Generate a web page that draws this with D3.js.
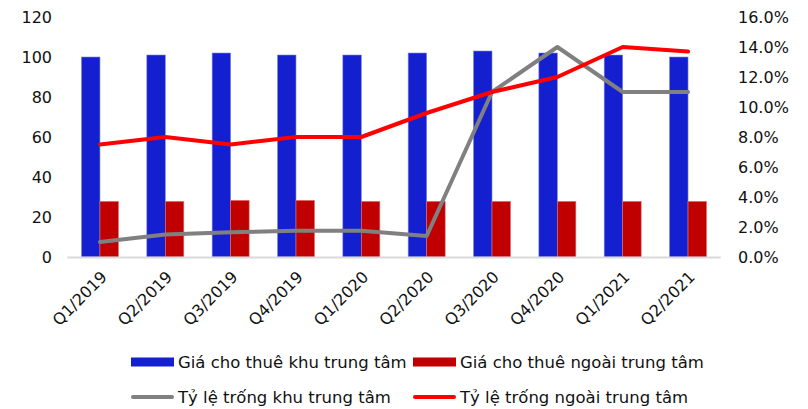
<!DOCTYPE html>
<html>
<head>
<meta charset="utf-8">
<script src="https://cdn.jsdelivr.net/npm/d3@7/dist/d3.min.js"></script>
<style>
  html, body { margin: 0; padding: 0; background: #fff; }
  svg { display: block; font-family: "DejaVu Sans", Verdana, sans-serif; }
</style>
</head>
<body>
<svg id="chart" width="808" height="409"></svg>
<script>
// Quarterly office rent (left axis) and vacancy rate (right axis)
const quarters = ["Q1/2019", "Q2/2019", "Q3/2019", "Q4/2019", "Q1/2020",
                  "Q2/2020", "Q3/2020", "Q4/2020", "Q1/2021", "Q2/2021"];
const rentCentral = [100, 101, 102, 101, 101, 102, 103, 102, 101, 100];
const rentOuter   = [27.8, 27.8, 28.3, 28.3, 27.8, 27.8, 27.8, 27.8, 27.8, 27.8];
const vacancyCentral = [1.0, 1.5, 1.65, 1.75, 1.75, 1.4, 11.0, 14.0, 11.0, 11.0];
const vacancyOuter   = [7.5, 8.0, 7.5, 8.0, 8.0, 9.6, 11.0, 12.0, 14.0, 13.7];
const leftTicks  = [0, 20, 40, 60, 80, 100, 120];
const rightTicks = [0, 2, 4, 6, 8, 10, 12, 14, 16];

const seriesNames = {
  rentCentral: "Giá cho thuê khu trung tâm",
  rentOuter: "Giá cho thuê ngoài trung tâm",
  vacancyCentral: "Tỷ lệ trống khu trung tâm",
  vacancyOuter: "Tỷ lệ trống ngoài trung tâm"
};
const colors = {
  rentCentral: "#1420CF",
  rentOuter: "#C00000",
  vacancyCentral: "#808080",
  vacancyOuter: "#FF0000"
};

const svg = d3.select("#chart");
const plot = { left: 67.3, right: 720.7, top: 17, bottom: 257 };
const fontFamily = "DejaVu Sans, Verdana, sans-serif";

const x0 = d3.scaleBand().domain(quarters).range([plot.left, plot.right]).padding(0);
const x1 = d3.scaleBand().domain(["rentCentral", "rentOuter"])
  .range([0, x0.bandwidth()]).paddingInner(0).paddingOuter(0.766);
const yLeft = d3.scaleLinear().domain([0, 120]).range([plot.bottom, plot.top]);
const yRight = d3.scaleLinear().domain([0, 16]).range([plot.bottom, plot.top]);

// Bars
const barData = quarters.map((q, i) => ({ q, rentCentral: rentCentral[i], rentOuter: rentOuter[i] }));
const groups = svg.append("g").selectAll("g").data(barData).join("g")
  .attr("transform", d => `translate(${x0(d.q)},0)`);
groups.selectAll("rect")
  .data(d => ["rentCentral", "rentOuter"].map(k => ({ k, v: d[k] })))
  .join("rect")
  .attr("x", d => x1(d.k))
  .attr("y", d => yLeft(d.v))
  .attr("width", x1.bandwidth())
  .attr("height", d => yLeft(0) - yLeft(d.v))
  .attr("fill", d => colors[d.k])
  .attr("stroke", d => d.k === "rentCentral" ? "#7F86E6" : "#E07070")
  .attr("stroke-width", 0.6);

// Baseline
svg.append("line")
  .attr("x1", plot.left).attr("x2", plot.right)
  .attr("y1", plot.bottom + 0.5).attr("y2", plot.bottom + 0.5)
  .attr("stroke", "#D9D9D9").attr("stroke-width", 2);

// Vacancy lines
const cx = q => x0(q) + x0.bandwidth() / 2;
const lineGen = d3.line().x(d => cx(d.q)).y(d => yRight(d.v));
[["vacancyCentral", vacancyCentral], ["vacancyOuter", vacancyOuter]].forEach(([k, vals]) => {
  svg.append("path")
    .datum(quarters.map((q, i) => ({ q, v: vals[i] })))
    .attr("d", lineGen)
    .attr("fill", "none")
    .attr("stroke", colors[k])
    .attr("stroke-width", 4)
    .attr("stroke-linejoin", "round")
    .attr("stroke-linecap", "round");
});

// Left axis
const leftAxis = d3.axisLeft(yLeft).tickValues(leftTicks).tickSize(0).tickPadding(0)
  .tickFormat(d3.format("d"));
const gl = svg.append("g").attr("transform", "translate(52,0)").call(leftAxis);
gl.select(".domain").remove();
gl.selectAll("text").attr("font-size", 16).attr("fill", "#111")
  .attr("font-family", fontFamily);

// Right axis
const rightAxis = d3.axisRight(yRight).tickValues(rightTicks).tickSize(0).tickPadding(0)
  .tickFormat(d => d3.format(".1f")(d) + "%");
const gr = svg.append("g").attr("transform", "translate(738,0)").call(rightAxis);
gr.select(".domain").remove();
gr.selectAll("text").attr("font-size", 16).attr("fill", "#111")
  .attr("font-family", fontFamily);

// Category axis, rotated labels
const bottomAxis = d3.axisBottom(x0).tickSize(0).tickPadding(0);
const gb = svg.append("g").attr("transform", `translate(0,${plot.bottom})`).call(bottomAxis);
gb.select(".domain").remove();
gb.selectAll("text")
  .attr("font-size", 16).attr("fill", "#111")
  .attr("font-family", fontFamily)
  .attr("text-anchor", "end")
  .attr("dy", null)
  .attr("y", 0)
  .attr("transform", "translate(8,21) rotate(-45)");

// Legend
const legend = [
  { k: "rentCentral", type: "bar", x: 131, y: 362 },
  { k: "rentOuter", type: "bar", x: 413, y: 362 },
  { k: "vacancyCentral", type: "line", x: 131, y: 397 },
  { k: "vacancyOuter", type: "line", x: 413, y: 397 }
];
const lg = svg.append("g").selectAll("g").data(legend).join("g")
  .attr("transform", d => `translate(${d.x},${d.y})`);
lg.filter(d => d.type === "bar").append("rect")
  .attr("x", 0).attr("y", -4.5).attr("width", 43).attr("height", 9)
  .attr("fill", d => colors[d.k]);
lg.filter(d => d.type === "line").append("line")
  .attr("x1", 2).attr("x2", 41).attr("y1", 0).attr("y2", 0)
  .attr("stroke", d => colors[d.k]).attr("stroke-width", 4).attr("stroke-linecap", "round");
lg.append("text")
  .attr("x", 47).attr("y", 0).attr("dy", "0.35em")
  .attr("font-size", 16.5).attr("fill", "#111")
  .text(d => seriesNames[d.k]);
</script>
</body>
</html>
